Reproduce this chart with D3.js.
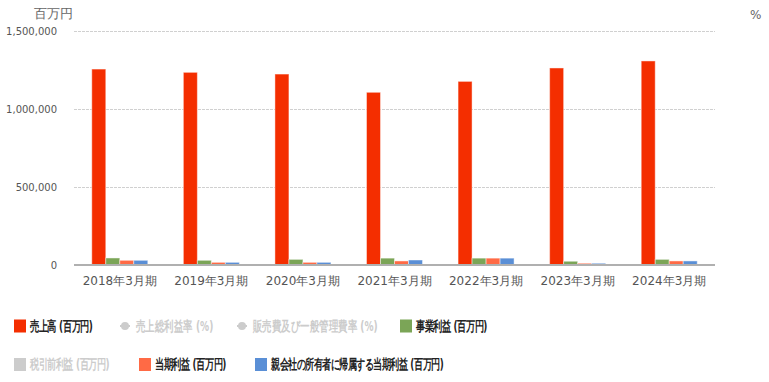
<!DOCTYPE html>
<html>
<head>
<meta charset="utf-8">
<script src="https://cdn.jsdelivr.net/npm/d3@7"></script>
<style>
  body { margin: 0; background: #fff; }
  text { font-family: "DejaVu Sans", sans-serif; }
</style>
</head>
<body>
<div id="chart"></div>
<script>
// données
const years = ["2018年3月期", "2019年3月期", "2020年3月期", "2021年3月期", "2022年3月期", "2023年3月期", "2024年3月期"];
const sales = [1256000, 1235000, 1224000, 1107000, 1177000, 1263000, 1308000];
const bizProfit = [45000, 30000, 36000, 44000, 44000, 24000, 36000];
const netProfit = [30000, 17000, 17000, 26000, 44000, 11000, 26000];
const ownerProfit = [30000, 17000, 17000, 32000, 44000, 11000, 26000];
const yTicks = [0, 500000, 1000000, 1500000];

const series = [
  { key: "sales", values: sales, color: "#f42e00" },
  { key: "biz", values: bizProfit, color: "#7ba557" },
  { key: "net", values: netProfit, color: "#ff6a45" },
  { key: "owner", values: ownerProfit, color: "#5a8fd6" }
];

// légende : [texte, type, actif, couleur, x, ligne, largeur du texte]
const legendItems = [
  ["売上高 (百万円)", "rect", true, "#f42e00", 14, 0, 67],
  ["売上総利益率 (%)", "line", false, "#cccccc", 120, 0, 77],
  ["販売費及び一般管理費率 (%)", "line", false, "#cccccc", 237, 0, 124],
  ["事業利益 (百万円)", "rect", true, "#7ba557", 400, 0, 76],
  ["税引前利益 (百万円)", "rect", false, "#cccccc", 14, 1, 85],
  ["当期利益 (百万円)", "rect", true, "#ff6a45", 139, 1, 76],
  ["親会社の所有者に帰属する当期利益 (百万円)", "rect", true, "#5a8fd6", 255, 1, 185]
];

const width = 769, height = 382;
const plot = { left: 74, right: 715, top: 31, bottom: 265 };

const svg = d3.select("#chart").append("svg")
  .attr("width", width)
  .attr("height", height);

const x0 = d3.scaleBand().domain(years).range([plot.left, plot.right]);
const x1 = d3.scaleBand().domain(series.map(s => s.key))
  .range([0, x0.bandwidth()]).paddingOuter(1.27);
const y = d3.scaleLinear().domain([0, 1500000]).range([plot.bottom, plot.top]);

// grille
svg.append("g")
  .selectAll("line")
  .data(yTicks.filter(d => d > 0))
  .enter().append("line")
  .attr("x1", plot.left).attr("x2", plot.right)
  .attr("y1", d => Math.round(y(d)) + 0.5).attr("y2", d => Math.round(y(d)) + 0.5)
  .attr("stroke", "#d0d0d0")
  .attr("stroke-dasharray", "3,1");

// axe Y
const yAxis = d3.axisLeft(y).tickValues(yTicks).tickSize(0).tickPadding(0)
  .tickFormat(d3.format(","));
const gy = svg.append("g").attr("transform", `translate(57,0)`).call(yAxis);
gy.select(".domain").remove();
gy.selectAll("text").attr("font-size", 10).attr("fill", "#555")
  .attr("font-family", "DejaVu Sans, sans-serif");

// barres
series.forEach(s => {
  svg.append("g").selectAll("rect")
    .data(s.values)
    .enter().append("rect")
    .attr("x", (d, i) => x0(years[i]) + x1(s.key))
    .attr("y", d => y(d))
    .attr("width", x1.bandwidth())
    .attr("height", d => plot.bottom - y(d))
    .attr("fill", s.color)
    .attr("stroke", "rgba(255,255,255,0.45)")
    .attr("stroke-width", 1);
});

// ligne de base
svg.append("line")
  .attr("x1", plot.left).attr("x2", plot.right)
  .attr("y1", plot.bottom).attr("y2", plot.bottom)
  .attr("stroke", "#b0b0b0").attr("stroke-width", 2);

// axe X
const xAxis = d3.axisBottom(x0).tickSize(0).tickPadding(0);
const gx = svg.append("g").attr("transform", `translate(0,${plot.bottom + 11})`).call(xAxis);
gx.select(".domain").remove();
gx.selectAll("text").attr("font-size", 12).attr("fill", "#555")
  .attr("font-family", "DejaVu Sans, 'Noto Sans CJK JP', sans-serif");

// titres des unités
svg.append("text").attr("x", 34).attr("y", 18)
  .attr("font-size", 13).attr("fill", "#666")
  .attr("font-family", "'Noto Sans CJK JP', sans-serif")
  .text("百万円");
svg.append("text").attr("x", 750).attr("y", 19)
  .attr("font-size", 12).attr("fill", "#666")
  .text("%");

// légende
const rowY = [326, 364.5];
legendItems.forEach(([label, type, active, color, lx, row, tw]) => {
  const g = svg.append("g").attr("transform", `translate(${lx},${rowY[row]})`);
  if (type === "rect") {
    g.append("rect").attr("x", 0).attr("y", -6.5).attr("width", 12).attr("height", 13)
      .attr("fill", color);
  } else {
    g.append("line").attr("x1", 0).attr("x2", 10).attr("y1", 0).attr("y2", 0)
      .attr("stroke", color).attr("stroke-width", 2);
    g.append("circle").attr("cx", 5).attr("cy", 0).attr("r", 4).attr("fill", color);
  }
  // police étroite simulée : on compresse horizontalement
  const t = g.append("text").attr("dy", "0.36em")
    .attr("font-size", 13.5).attr("font-weight", "bold")
    .attr("font-family", "'Noto Sans CJK JP', sans-serif")
    .attr("fill", active ? "#222" : "#cccccc")
    .text(label);
  const k = tw / t.node().getComputedTextLength();
  t.attr("transform", `translate(16,0) scale(${k},1)`);
});
</script>
</body>
</html>
